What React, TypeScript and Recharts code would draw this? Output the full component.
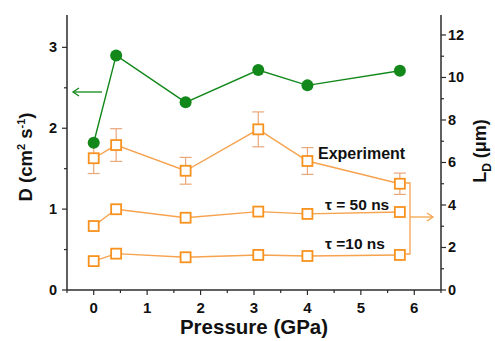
import React from "react";
import {
  ComposedChart, Line, XAxis, YAxis, ErrorBar,
} from "recharts";

// Pressure (GPa) of each measurement
const pressure = [0, 0.42, 1.72, 3.08, 4.0, 5.73];
// diffusion coefficient D (cm^2 s^-1), left axis
const diffusion = [1.82, 2.9, 2.32, 2.72, 2.53, 2.71];
// diffusion length L_D (um), right axis
const ldExperiment = [6.2, 6.82, 5.61, 7.56, 6.07, 5.0];
const ldExperimentErr = [0.72, 0.77, 0.63, 0.82, 0.63, 0.5];
const ldTau50 = [3.01, 3.8, 3.4, 3.69, 3.58, 3.67];
const ldTau10 = [1.36, 1.71, 1.54, 1.65, 1.6, 1.65];

const xTicks = [-0.5, 0, 0.5, 1, 1.5, 2, 2.5, 3, 3.5, 4, 4.5, 5, 5.5, 6, 6.5];
const leftTicks = [0, 0.5, 1, 1.5, 2, 2.5, 3];
const rightTicks = [0, 1, 2, 3, 4, 5, 6, 7, 8, 9, 10, 11, 12];

const GREEN = "#12881a";
const ORANGE = "#f7921e";
const ORANGE_LINE = "#f6a24e";
const ERR = "#e9a77a";
const AXIS = "#2b2b2b";
const FONT = "'Liberation Sans', Arial, sans-serif";

const data = pressure.map((p, i) => ({
  p,
  d: diffusion[i],
  exp: ldExperiment[i],
  err: ldExperimentErr[i],
  t50: ldTau50[i],
  t10: ldTau10[i],
}));

const LeftTick = ({ x, y, payload }: any) => {
  const major = Number.isInteger(payload.value);
  return (
    <g>
      <line x1={x} x2={x - (major ? 5 : 3)} y1={y} y2={y} stroke={AXIS} strokeWidth={1.2} />
      {major && (
        <text x={x - 10} y={y + 5} textAnchor="end" fontSize={14.5} fontWeight="bold" fontFamily={FONT} fill="#111">
          {payload.value}
        </text>
      )}
    </g>
  );
};

const RightTick = ({ x, y, payload }: any) => {
  const major = payload.value % 2 === 0;
  return (
    <g>
      <line x1={x} x2={x + (major ? 5 : 3)} y1={y} y2={y} stroke={AXIS} strokeWidth={1.2} />
      {major && (
        <text x={x + 7} y={y + 5} textAnchor="start" fontSize={14.5} fontWeight="bold" fontFamily={FONT} fill="#111">
          {payload.value}
        </text>
      )}
    </g>
  );
};

const BottomTick = ({ x, y, payload }: any) => {
  const major = Number.isInteger(payload.value);
  return (
    <g>
      <line x1={x} x2={x} y1={y} y2={y + (major ? 5 : 3)} stroke={AXIS} strokeWidth={1.2} />
      {major && (
        <text x={x} y={y + 23} textAnchor="middle" fontSize={15} fontWeight="bold" fontFamily={FONT} fill="#111">
          {payload.value}
        </text>
      )}
    </g>
  );
};

const SquareDot = (props: any) => {
  const { cx, cy, index } = props;
  if (cx == null || cy == null) return <g key={index} />;
  return (
    <rect key={index} x={cx - 5} y={cy - 5} width={10} height={10}
      fill="#fff" stroke={ORANGE} strokeWidth={1.8} />
  );
};

export default function App() {
  return (
    <div style={{ position: "absolute", left: 0, top: 0, width: 495, height: 341, background: "#fff" }}>
      <ComposedChart width={495} height={341} data={data}
        margin={{ top: 15, right: 0, left: 0, bottom: 0 }}>
        <XAxis dataKey="p" type="number" domain={[-0.5, 6.5]} ticks={xTicks}
          allowDataOverflow height={51} tickSize={0} tickMargin={0}
          tick={<BottomTick />} tickLine={false} interval={0}
          axisLine={{ stroke: AXIS, strokeWidth: 1.5 }} />
        <XAxis xAxisId="top" orientation="top" dataKey="p" type="number"
          domain={[-0.5, 6.5]} height={0} tick={false} tickLine={false}
          axisLine={{ stroke: AXIS, strokeWidth: 1.5 }} />
        <YAxis yAxisId="L" type="number" domain={[0, 3.4]} ticks={leftTicks}
          allowDataOverflow width={67} tickSize={0} tickMargin={0}
          tick={<LeftTick />} tickLine={false} interval={0}
          axisLine={{ stroke: AXIS, strokeWidth: 1.5 }} />
        <YAxis yAxisId="R" orientation="right" type="number" domain={[0, 12.94]}
          ticks={rightTicks} allowDataOverflow width={54} tickSize={0} tickMargin={0}
          tick={<RightTick />} tickLine={false} interval={0}
          axisLine={{ stroke: AXIS, strokeWidth: 1.5 }} />

        <Line yAxisId="R" dataKey="t10" stroke={ORANGE_LINE} strokeWidth={1.4}
          dot={SquareDot} activeDot={false} isAnimationActive={false} type="linear" />
        <Line yAxisId="R" dataKey="t50" stroke={ORANGE_LINE} strokeWidth={1.4}
          dot={SquareDot} activeDot={false} isAnimationActive={false} type="linear" />
        <Line yAxisId="R" dataKey="exp" stroke={ORANGE_LINE} strokeWidth={1.4}
          dot={SquareDot} activeDot={false} isAnimationActive={false} type="linear">
          <ErrorBar dataKey="err" direction="y" width={6} stroke={ERR} strokeWidth={1.2} />
        </Line>
        <Line yAxisId="L" dataKey="d" stroke={GREEN} strokeWidth={1.4}
          dot={{ r: 6, fill: GREEN, stroke: GREEN, strokeWidth: 0 }} activeDot={false}
          isAnimationActive={false} type="linear" />
      </ComposedChart>

      <svg width={495} height={341} style={{ position: "absolute", left: 0, top: 0, pointerEvents: "none" }}
        fontFamily={FONT}>
        {/* axis titles */}
        <text transform="translate(32,157) rotate(-90)" textAnchor="middle" fontSize={18.5} fontWeight="bold" fill="#111">
          D (cm<tspan dy={-7} fontSize={11}>2</tspan><tspan dy={7}> s</tspan><tspan dy={-7} fontSize={11}>-1</tspan><tspan dy={7}>)</tspan>
        </text>
        <text transform="translate(486,151) rotate(-90)" textAnchor="middle" fontSize={18} fontWeight="bold" fill="#111">
          L<tspan dy={5} fontSize={12}>D</tspan><tspan dy={-5}> (μm)</tspan>
        </text>
        <text x={254} y={334} textAnchor="middle" fontSize={20.5} fontWeight="bold" fill="#111">Pressure (GPa)</text>

        {/* series labels */}
        <text x={318} y={159} fontSize={16} fontWeight="bold" fill="#111">Experiment</text>
        <text x={325} y={210} fontSize={15.5} fontWeight="bold" fill="#111">τ = 50 ns</text>
        <text x={325} y={249} fontSize={15.5} fontWeight="bold" fill="#111">τ =10 ns</text>

        {/* green arrow pointing at the left axis */}
        <g stroke={GREEN} strokeWidth={1.3} fill="none">
          <line x1={102} y1={92} x2={73} y2={92} />
          <polyline points="79,88 73,92 79,96" />
        </g>

        {/* orange bracket with arrow to the right axis */}
        <g stroke={ORANGE_LINE} strokeWidth={1.3} fill="none">
          <polyline points="405,183 410,183 410,254 405,254" />
          <line x1={410} y1={217} x2={433} y2={217} />
          <polyline points="427,213 433,217 427,221" />
        </g>
      </svg>
    </div>
  );
}
